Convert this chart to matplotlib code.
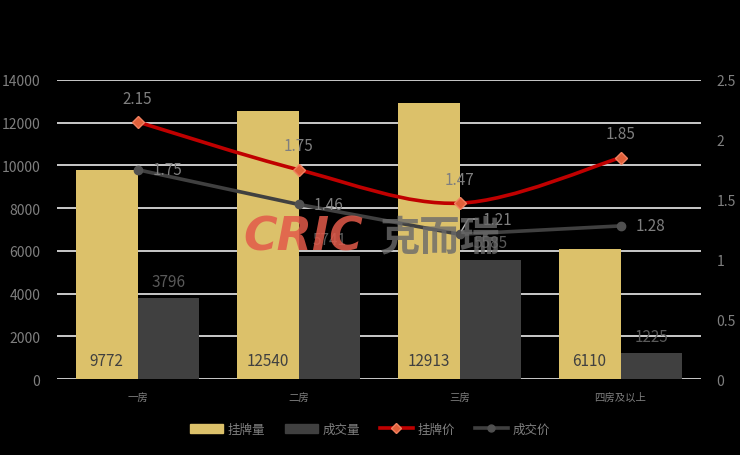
import numpy as np
import matplotlib
matplotlib.use('Agg')
import matplotlib.pyplot as plt
from matplotlib.path import Path
from matplotlib.patches import PathPatch
from matplotlib.lines import Line2D
from matplotlib.patches import Patch

plt.rcParams['font.family'] = ['Noto Sans CJK SC', 'DejaVu Sans']

categories = ['一房', '二房', '三房', '四房及以上']
listed_qty = [9772, 12540, 12913, 6110]      # 挂牌量
deal_qty = [3796, 5741, 5585, 1225]          # 成交量
listed_price = [2.15, 1.75, 1.47, 1.85]      # 挂牌价
deal_price = [1.75, 1.46, 1.21, 1.28]        # 成交价

yellow = '#dcc16a'
dark = '#404040'
red = '#c00000'
gray_txt = '#7f7f7f'

fig = plt.figure(figsize=(7.4, 4.56), dpi=100, facecolor='black')
ax = fig.add_axes([57/740, 1-380/456, 644/740, 299/456])
ax.set_facecolor('black')
ax2 = ax.twinx()

x = np.arange(len(categories))
w = 0.385
ax.bar(x - w/2, listed_qty, w, color=yellow, zorder=2)
ax.bar(x + w/2, deal_qty, w, color=dark, zorder=2)

ax.set_ylim(0, 14000)
ax.set_yticks(range(0, 14001, 2000))
ax.set_xlim(-0.5, 3.5)
ax.set_xticks(x)
ax.set_xticklabels(categories)
ax.grid(axis='y', color='#d9d9d9', linewidth=1.3, zorder=0)
ax.set_axisbelow(True)

ax2.set_ylim(0, 2.5)
ax2.set_yticks([0, 0.5, 1, 1.5, 2, 2.5])
ax2.set_yticklabels(['0', '0.5', '1', '1.5', '2', '2.5'])

for a in (ax, ax2):
    for s in a.spines.values():
        s.set_visible(False)
    a.tick_params(length=0, colors=gray_txt, labelsize=10)
ax.tick_params(axis='x', pad=9, labelsize=7.5)
ax.tick_params(axis='y', pad=12)
ax2.tick_params(axis='y', pad=11)

# value labels on bars
for xi, v in zip(x, listed_qty):
    ax.annotate(str(v), (xi - w/2, 0), xytext=(0, 7), textcoords='offset points',
                ha='center', va='bottom', color=dark, fontsize=11, zorder=5)
for xi, v in zip(x, deal_qty):
    ax.annotate(str(v), (xi + w/2, v), xytext=(0, 6), textcoords='offset points',
                ha='center', va='bottom', color='#595959', fontsize=11, zorder=5)

# smoothed red line (Catmull-Rom -> bezier)
pts = np.column_stack([x, listed_price]).astype(float)
ext = np.vstack([pts[0], pts, pts[-1]])
verts = [tuple(pts[0])]
codes = [Path.MOVETO]
for i in range(len(pts) - 1):
    p0, p1, p2, p3 = ext[i], ext[i+1], ext[i+2], ext[i+3]
    c1 = p1 + (p2 - p0) / 6
    c2 = p2 - (p3 - p1) / 6
    verts += [tuple(c1), tuple(c2), tuple(p2)]
    codes += [Path.CURVE4] * 3
ax2.add_patch(PathPatch(Path(verts, codes), fill=False, edgecolor=red, lw=2.6, zorder=3))
ax2.plot(x, listed_price, ls='none', marker='D', ms=6, mfc='#e0603a', mec='#f08060', zorder=4)

ax2.plot(x, deal_price, color=dark, lw=2.6, marker='o', ms=6, mfc='#505050', mec='#505050', zorder=3)

for xi, v in zip(x, listed_price):
    ax2.annotate(f'{v:.2f}', (xi, v), xytext=(0, 11), textcoords='offset points',
                 ha='center', va='bottom', color=gray_txt, fontsize=11, zorder=5)
for xi, v in zip(x, deal_price):
    if xi == 2:
        ax2.annotate(f'{v:.2f}', (xi, v), xytext=(17, 11), textcoords='offset points',
                     ha='left', va='center', color=gray_txt, fontsize=11, zorder=5,
                     arrowprops=dict(arrowstyle='-', color='#bfbfbf', lw=1,
                                     connectionstyle='angle,angleA=0,angleB=60,rad=0',
                                     shrinkA=2, shrinkB=3))
    else:
        ax2.annotate(f'{v:.2f}', (xi, v), xytext=(11, 0), textcoords='offset points',
                     ha='left', va='center', color=gray_txt, fontsize=11, zorder=5)

# watermark
fig.text(243/740, 1-238/456, 'CRIC', color='#e25a4a', alpha=0.85, fontsize=33,
         fontweight='bold', style='italic', family='DejaVu Sans', ha='left', va='center')
fig.text(380/740, 1-238/456, '克而瑞', color='#6a6a6a', alpha=0.8, fontsize=29,
         fontweight='bold', ha='left', va='center')

handles = [Patch(color=yellow), Patch(color=dark),
           Line2D([], [], color=red, lw=2.6, marker='D', ms=5, mfc='#e0603a', mec='#f08060'),
           Line2D([], [], color=dark, lw=2.6, marker='o', ms=5, mfc='#505050', mec='#505050')]
labels = ['挂牌量', '成交量', '挂牌价', '成交价']
leg = fig.legend(handles, labels, loc='center', bbox_to_anchor=(0.5, 1-430/456), ncol=4,
                 frameon=False, fontsize=9, labelcolor=gray_txt, handlelength=2.6,
                 handleheight=0.7, columnspacing=1.6, handletextpad=0.4)

fig.savefig('out.png', dpi=100, facecolor='black')
